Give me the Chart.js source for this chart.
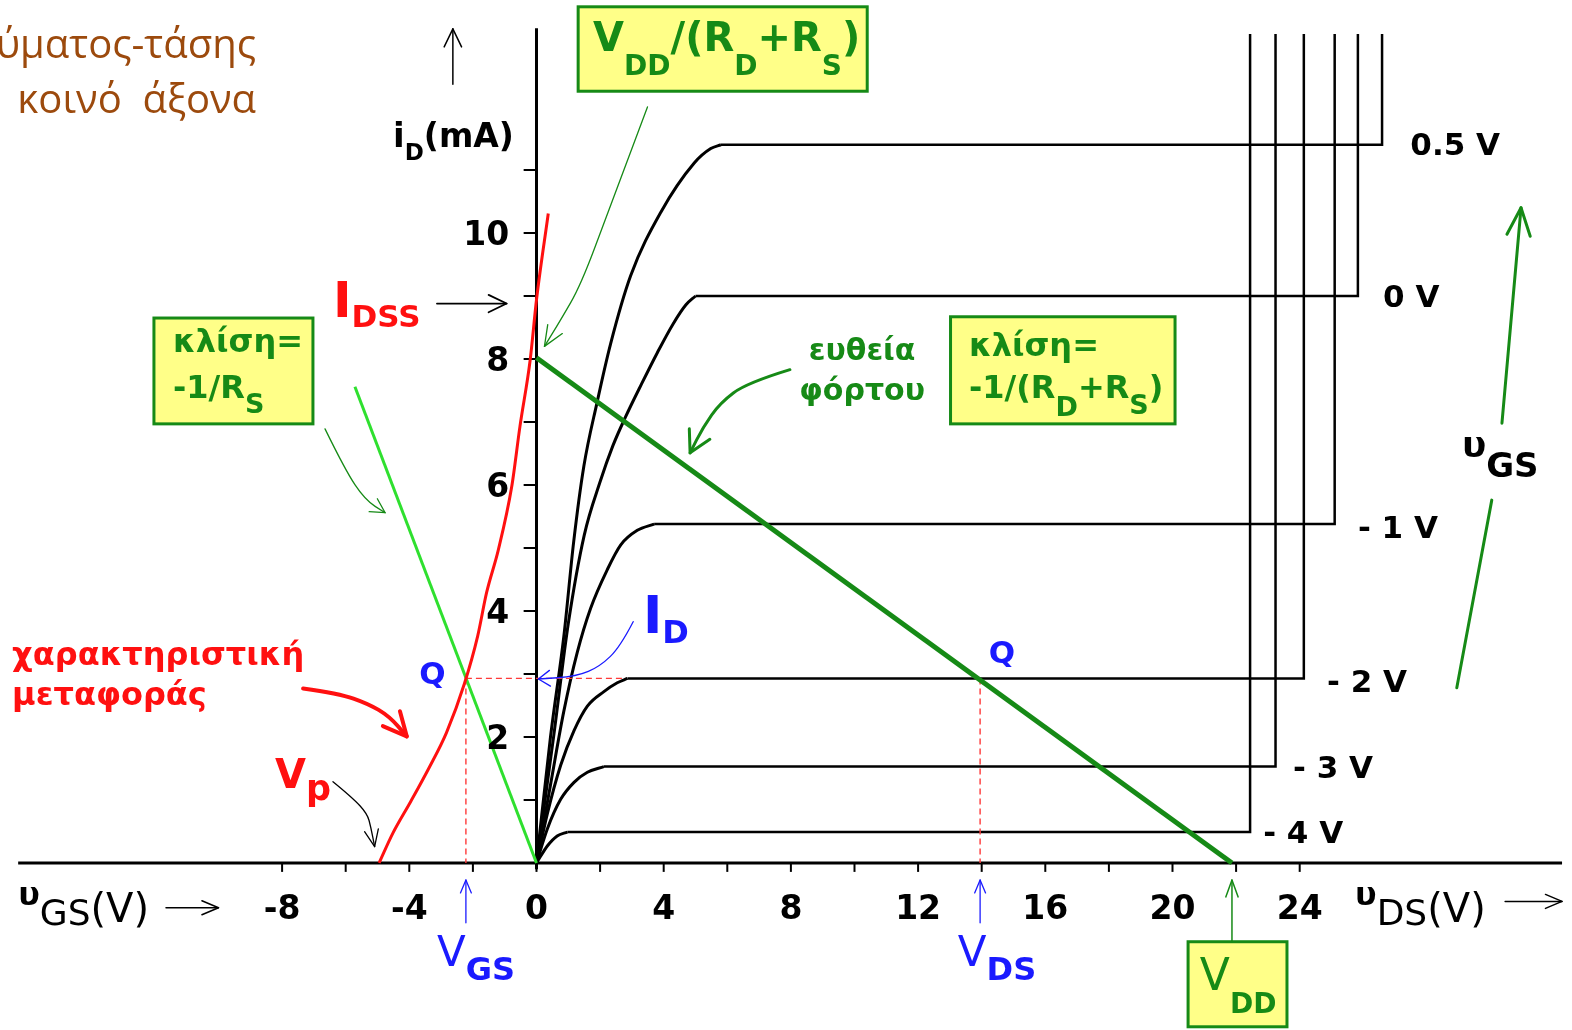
<!DOCTYPE html>
<html>
<head>
<meta charset="utf-8">
<title>JFET</title>
<script src="https://cdn.jsdelivr.net/npm/chart.js@4.4.1/dist/chart.umd.min.js"></script>
<style>
  html, body { margin: 0; padding: 0; background: #fff; }
  #box { position: relative; width: 1572px; height: 1030px; }
</style>
</head>
<body>
<div id="box"><canvas id="jfetChart"></canvas></div>
<script>
// output characteristics: [υDS (V), iD (mA)], rising part of each υGS curve
const gateLabels = ['0.5 V', '0 V', '- 1 V', '- 2 V', '- 3 V', '- 4 V'];
const rise05 = [[0, 0], [0.44, 2.0], [0.86, 3.6], [1.17, 5.1], [1.49, 6.3], [1.9, 7.3], [2.33, 8.24], [2.96, 9.32], [3.91, 10.33], [4.96, 11.11], [5.48, 11.34], [5.8, 11.4]];
const rise0 = [[0, 0], [0.55, 2.05], [1.0, 3.8], [1.5, 5.2], [2.0, 6.05], [2.4, 6.62], [2.8, 7.08], [3.3, 7.6], [3.8, 8.1], [4.3, 8.56], [4.7, 8.86], [5.0, 9.0]];
const riseM1 = [[0, 0], [0.44, 1.24], [0.86, 2.41], [1.28, 3.34], [1.7, 4.04], [2.23, 4.66], [2.65, 5.05], [3.17, 5.28], [3.7, 5.38]];
const riseM2 = [[0, 0], [0.34, 0.78], [0.76, 1.55], [1.18, 2.1], [1.6, 2.49], [2.12, 2.72], [2.54, 2.86], [2.86, 2.93]];
const riseM3 = [[0, 0], [0.34, 0.54], [0.76, 1.01], [1.18, 1.28], [1.6, 1.44], [2.12, 1.53]];
const riseM4 = [[0, 0], [0.34, 0.27], [0.65, 0.43], [0.97, 0.49]];
const satCurrent = [11.4, 9.0, 5.38, 2.93, 1.53, 0.49];
const breakdownVds = [26.59, 25.83, 25.1, 24.13, 23.24, 22.44];
const breakdownTop = 13.16;

// transfer characteristic
const transferVgs = [-4.95, -4.52, -3.95, -3.39, -2.83, -2.27, -1.85, -1.57, -1.2, -0.78, -0.52, -0.2, 0.0, 0.37];
const transferId = [0, 0.47, 0.98, 1.5, 2.07, 2.84, 3.6, 4.29, 4.97, 5.97, 6.93, 7.98, 8.94, 10.31];

// bias line (slope -1/RS) and load line (slope -1/(RD+RS))
const biasVgs = [-5.71, 0];
const biasId = [7.56, 0];
const loadVds = [0, 21.87];
const loadId = [8.02, 0];

// operating point Q
const qVgs = -2.22;
const qVds = 13.95;
const qId = 2.93;

// axes
const xTicks = [-8, -6, -4, -2, 0, 2, 4, 6, 8, 10, 12, 14, 16, 18, 20, 22, 24];
const xTickLabels = ['-8', '-4', '0', '4', '8', '12', '16', '20', '24'];
const yTicks = [1, 2, 3, 4, 5, 6, 7, 8, 9, 10, 11];
const yTickLabels = ['2', '4', '6', '8', '10'];

const RED = '#ff1010';
const BLUE = '#1a1aff';
const DKGREEN = '#168a16';
const LTGREEN = '#2fe02f';
const BROWN = '#9c4a0d';
const FAM = '"DejaVu Sans", sans-serif';

const pts = (xs, ys) => xs.map((x, i) => ({ x: x, y: ys[i] }));
const pairs = arr => arr.map(p => ({ x: p[0], y: p[1] }));

function line(data, color, width, extra) {
    return Object.assign({
        data: data,
        borderColor: color,
        borderWidth: width,
        pointRadius: 0,
        showLine: true,
        fill: false,
        tension: 0,
        order: 5
    }, extra || {});
}

const datasets = [];

// axis lines and tick marks
datasets.push(line([{ x: -16.3, y: 0 }, { x: 32.25, y: 0 }], '#000', 3, { order: 10 }));
datasets.push(line([{ x: 0, y: -0.1 }, { x: 0, y: 13.25 }], '#000', 3, { order: 10 }));
datasets.push({
    data: xTicks.map(v => ({ x: v, y: -0.07 })),
    showLine: false, pointStyle: 'line', pointRotation: 90, pointRadius: 4.5,
    pointBorderWidth: 2, pointBorderColor: '#000', order: 10
});
datasets.push({
    data: yTicks.map(v => ({ x: -0.2, y: v })),
    showLine: false, pointStyle: 'line', pointRadius: 6.5,
    pointBorderWidth: 2, pointBorderColor: '#000', order: 10
});

// output curves
[rise05, rise0, riseM1, riseM2, riseM3, riseM4].forEach((curve, k) => {
    const knee = curve[curve.length - 1];
    datasets.push(line(pairs(curve), '#000', 3, { cubicInterpolationMode: 'monotone' }));
    datasets.push(line([
        { x: knee[0], y: satCurrent[k] },
        { x: breakdownVds[k], y: satCurrent[k] },
        { x: breakdownVds[k], y: breakdownTop }
    ], '#000', 2.5));
});

// Q construction lines
const dashed = { borderDash: [6, 4], order: 4 };
datasets.push(line([{ x: qVgs, y: qId }, { x: 2.7, y: qId }], '#ff3a3a', 1.4, dashed));
datasets.push(line([{ x: qVgs, y: qId }, { x: qVgs, y: 0 }], '#ff3a3a', 1.4, dashed));
datasets.push(line([{ x: qVds, y: qId }, { x: qVds, y: 0 }], '#ff3a3a', 1.4, dashed));

// transfer curve, bias line, load line
datasets.push(line(pts(transferVgs, transferId), RED, 3, { cubicInterpolationMode: 'monotone', order: 3 }));
datasets.push(line(pts(biasVgs, biasId), LTGREEN, 3, { order: 3 }));
datasets.push(line(pts(loadVds, loadId), DKGREEN, 5, { order: 2 }));

// annotation layer
const boxes = [
    [1.31, 13.59, 10.4, 12.25],
    [-12.03, 8.65, -7.03, 6.97],
    [13.02, 8.67, 20.08, 6.97],
    [20.49, -1.25, 23.6, -2.6]
];

const texts = [
    { at: [-4.51, 11.37], color: '#000', parts: [['i', 34, 'bold'], ['D', 23, 'bold', 13], ['(mA)', 33, 'bold']] },
    { at: [-6.4, 8.67], color: RED, parts: [['I', 50, 'bold'], ['DSS', 31, 'bold', 10]] },
    { at: [-3.27, 2.84], color: BLUE, align: 'center', parts: [['Q', 31, 'bold']] },
    { at: [14.64, 3.17], color: BLUE, align: 'center', parts: [['Q', 31, 'bold']] },
    { at: [3.35, 3.65], color: BLUE, parts: [['I', 52, 'bold'], ['D', 32, 'bold', 10]] },
    { at: [-3.13, -1.635], color: BLUE, parts: [['V', 42, 'normal'], ['GS', 32, 'bold', 14]] },
    { at: [13.25, -1.635], color: BLUE, parts: [['V', 42, 'normal'], ['DS', 32, 'bold', 14]] },
    { at: [20.86, -2.02], color: DKGREEN, parts: [['V', 44, 'normal'], ['DD', 28, 'bold', 23]] },
    { at: [1.78, 12.89], color: DKGREEN, parts: [['V', 40, 'bold'], ['DD', 28, 'bold', 24], ['/(R', 40, 'bold'], ['D', 28, 'bold', 24], ['+R', 40, 'bold'], ['S', 28, 'bold', 24], [')', 40, 'bold']] },
    { at: [-11.43, 8.11], color: DKGREEN, parts: [['κλίση=', 32, 'bold']] },
    { at: [-11.43, 7.38], color: DKGREEN, parts: [['-1/R', 32, 'bold'], ['S', 27, 'bold', 15]] },
    { at: [13.6, 8.05], color: DKGREEN, parts: [['κλίση=', 32, 'bold']] },
    { at: [13.6, 7.38], color: DKGREEN, parts: [['-1/(R', 32, 'bold'], ['D', 27, 'bold', 18], ['+R', 32, 'bold'], ['S', 27, 'bold', 16], [')', 32, 'bold']] },
    { at: [10.24, 7.98], color: DKGREEN, align: 'center', parts: [['ευθεία', 30, 'bold']] },
    { at: [10.24, 7.35], color: DKGREEN, align: 'center', parts: [['φόρτου', 30, 'bold']] },
    { at: [-16.49, 3.14], color: RED, parts: [['χαρακτηριστική', 32, 'bold']] },
    { at: [-16.49, 2.51], color: RED, parts: [['μεταφοράς', 32, 'bold']] },
    { at: [-8.22, 1.19], color: RED, parts: [['V', 40, 'bold'], ['p', 35, 'bold', 12]] },
    { at: [29.1, 6.44], color: '#000', parts: [['υ', 36, 'bold'], ['GS', 34, 'bold', 20]] },
    { at: [-16.3, -0.667], color: '#000', parts: [['υ', 32, 'bold'], ['GS', 36, 'normal', 20], ['(V)', 40, 'normal', 17]] },
    { at: [25.74, -0.667], color: '#000', parts: [['υ', 32, 'bold'], ['DS', 36, 'normal', 20], ['(V)', 40, 'normal', 17]] },
    { at: [-8.82, 12.78], color: BROWN, align: 'right', fam: '"Open Sans", sans-serif', parts: [['ρεύματος-τάσης', 40, 'normal']] },
    { at: [-8.82, 11.9], color: BROWN, align: 'right', fam: '"Open Sans", sans-serif', parts: [['κοινό  άξονα', 40, 'normal']] }
];

const gateLabelAt = [[27.48, 11.24], [26.62, 8.83], [25.83, 5.16], [24.86, 2.71], [23.79, 1.35], [22.85, 0.32]];

const arrows = [
    { p: [[-2.63, 12.36], [-2.63, 13.24]], c: '#000', w: 1.5, head: [20, 0.45] },
    { p: [[-3.13, 8.88], [-0.94, 8.88]], c: '#000', w: 1.8, head: [20, 0.45] },
    { p: [[3.49, 12.0], [2.28, 10.37], [1.39, 9.17], [0.76, 8.62], [0.25, 8.2]], c: DKGREEN, w: 1.3, head: [22, 0.4] },
    { p: [[7.97, 7.83], [6.61, 7.62], [5.77, 7.3], [5.24, 6.92], [4.83, 6.51]], c: DKGREEN, w: 3, head: [24, 0.5] },
    { p: [[-6.65, 6.89], [-6.02, 6.24], [-5.39, 5.76], [-4.76, 5.56]], c: DKGREEN, w: 1.3, head: [16, 0.5] },
    { p: [[3.04, 3.83], [2.63, 3.43], [2.0, 3.12], [1.26, 2.96], [0.06, 2.92]], c: BLUE, w: 1.3, head: [14, 0.6] },
    { p: [[-7.34, 2.77], [-6.21, 2.69], [-5.3, 2.53], [-4.63, 2.33], [-4.08, 2.01]], c: RED, w: 4, head: [26, 0.45] },
    { p: [[-6.4, 1.29], [-5.77, 1.03], [-5.32, 0.78], [-5.21, 0.57], [-5.09, 0.26]], c: '#000', w: 1.3, head: [18, 0.4] },
    { p: [[qVgs, -0.95], [qVgs, -0.27]], c: BLUE, w: 1.3, head: [14, 0.4] },
    { p: [[qVds, -0.95], [qVds, -0.27]], c: BLUE, w: 1.3, head: [14, 0.4] },
    { p: [[21.87, -1.25], [21.87, -0.27]], c: DKGREEN, w: 1.5, head: [18, 0.35] },
    { p: [[28.94, 2.78], [30.04, 5.76]], c: DKGREEN, w: 3 },
    { p: [[30.36, 6.98], [30.96, 10.4]], c: DKGREEN, w: 3, head: [30, 0.4] },
    { p: [[-11.65, -0.71], [-10.0, -0.71]], c: '#000', w: 1.5, head: [18, 0.4] },
    { p: [[30.46, -0.61], [32.25, -0.61]], c: '#000', w: 1.5, head: [18, 0.4] }
];

function rich(ctx, parts, x, y, align, color, fam) {
    const family = fam || FAM;
    let total = 0;
    parts.forEach(p => {
        ctx.font = p[2] + ' ' + p[1] + 'px ' + family;
        total += ctx.measureText(p[0]).width;
    });
    let cx = align === 'center' ? x - total / 2 : align === 'right' ? x - total : x;
    ctx.fillStyle = color;
    ctx.textAlign = 'left';
    ctx.textBaseline = 'alphabetic';
    parts.forEach(p => {
        ctx.font = p[2] + ' ' + p[1] + 'px ' + family;
        ctx.fillText(p[0], cx, y + (p[3] || 0));
        cx += ctx.measureText(p[0]).width;
    });
}

const annotations = {
    id: 'annotations',
    afterDatasetsDraw(chart) {
        const ctx = chart.ctx;
        const X = v => chart.scales.x.getPixelForValue(v);
        const Y = v => chart.scales.y.getPixelForValue(v);
        ctx.save();

        // yellow boxes
        boxes.forEach(b => {
            ctx.fillStyle = '#ffff88';
            ctx.strokeStyle = DKGREEN;
            ctx.lineWidth = 3;
            ctx.fillRect(X(b[0]), Y(b[1]), X(b[2]) - X(b[0]), Y(b[3]) - Y(b[1]));
            ctx.strokeRect(X(b[0]), Y(b[1]), X(b[2]) - X(b[0]), Y(b[3]) - Y(b[1]));
        });

        // arrows
        ctx.lineCap = 'round';
        ctx.lineJoin = 'round';
        arrows.forEach(a => {
            const q = a.p.map(p => [X(p[0]), Y(p[1])]);
            ctx.strokeStyle = a.c;
            ctx.lineWidth = a.w;
            ctx.beginPath();
            ctx.moveTo(q[0][0], q[0][1]);
            let from = q[0];
            for (let i = 1; i < q.length - 1; i++) {
                const mx = (q[i][0] + q[i + 1][0]) / 2;
                const my = (q[i][1] + q[i + 1][1]) / 2;
                ctx.quadraticCurveTo(q[i][0], q[i][1], mx, my);
                from = q[i];
            }
            const end = q[q.length - 1];
            ctx.lineTo(end[0], end[1]);
            ctx.stroke();
            if (a.head) {
                const ang = Math.atan2(end[1] - from[1], end[0] - from[0]);
                const len = a.head[0], sp = a.head[1];
                ctx.beginPath();
                ctx.moveTo(end[0] - len * Math.cos(ang - sp), end[1] - len * Math.sin(ang - sp));
                ctx.lineTo(end[0], end[1]);
                ctx.lineTo(end[0] - len * Math.cos(ang + sp), end[1] - len * Math.sin(ang + sp));
                ctx.stroke();
            }
        });

        // tick labels
        xTickLabels.forEach(t => rich(ctx, [[t, 33, 'bold']], X(parseFloat(t)), Y(-0.89), 'center', '#000'));
        yTickLabels.forEach(t => rich(ctx, [[t, 33, 'bold']], X(-0.86), Y(parseFloat(t) - 0.19), 'right', '#000'));

        // υGS labels of the output curves
        gateLabels.forEach((t, k) => rich(ctx, [[t, 31, 'bold']], X(gateLabelAt[k][0]), Y(gateLabelAt[k][1]), 'left', '#000'));

        texts.forEach(t => rich(ctx, t.parts, X(t.at[0]), Y(t.at[1]), t.align || 'left', t.color, t.fam));
        ctx.restore();
    }
};

new Chart(document.getElementById('jfetChart'), {
    type: 'scatter',
    data: { datasets: datasets },
    options: {
        responsive: true,
        maintainAspectRatio: false,
        animation: false,
        events: [],
        layout: { padding: 0, autoPadding: false },
        plugins: { legend: { display: false }, tooltip: { enabled: false } },
        scales: {
            x: { type: 'linear', display: false, min: -16.871, max: 32.563 },
            y: { type: 'linear', display: false, min: -2.651, max: 13.698 }
        }
    },
    plugins: [annotations]
});
</script>
</body>
</html>
